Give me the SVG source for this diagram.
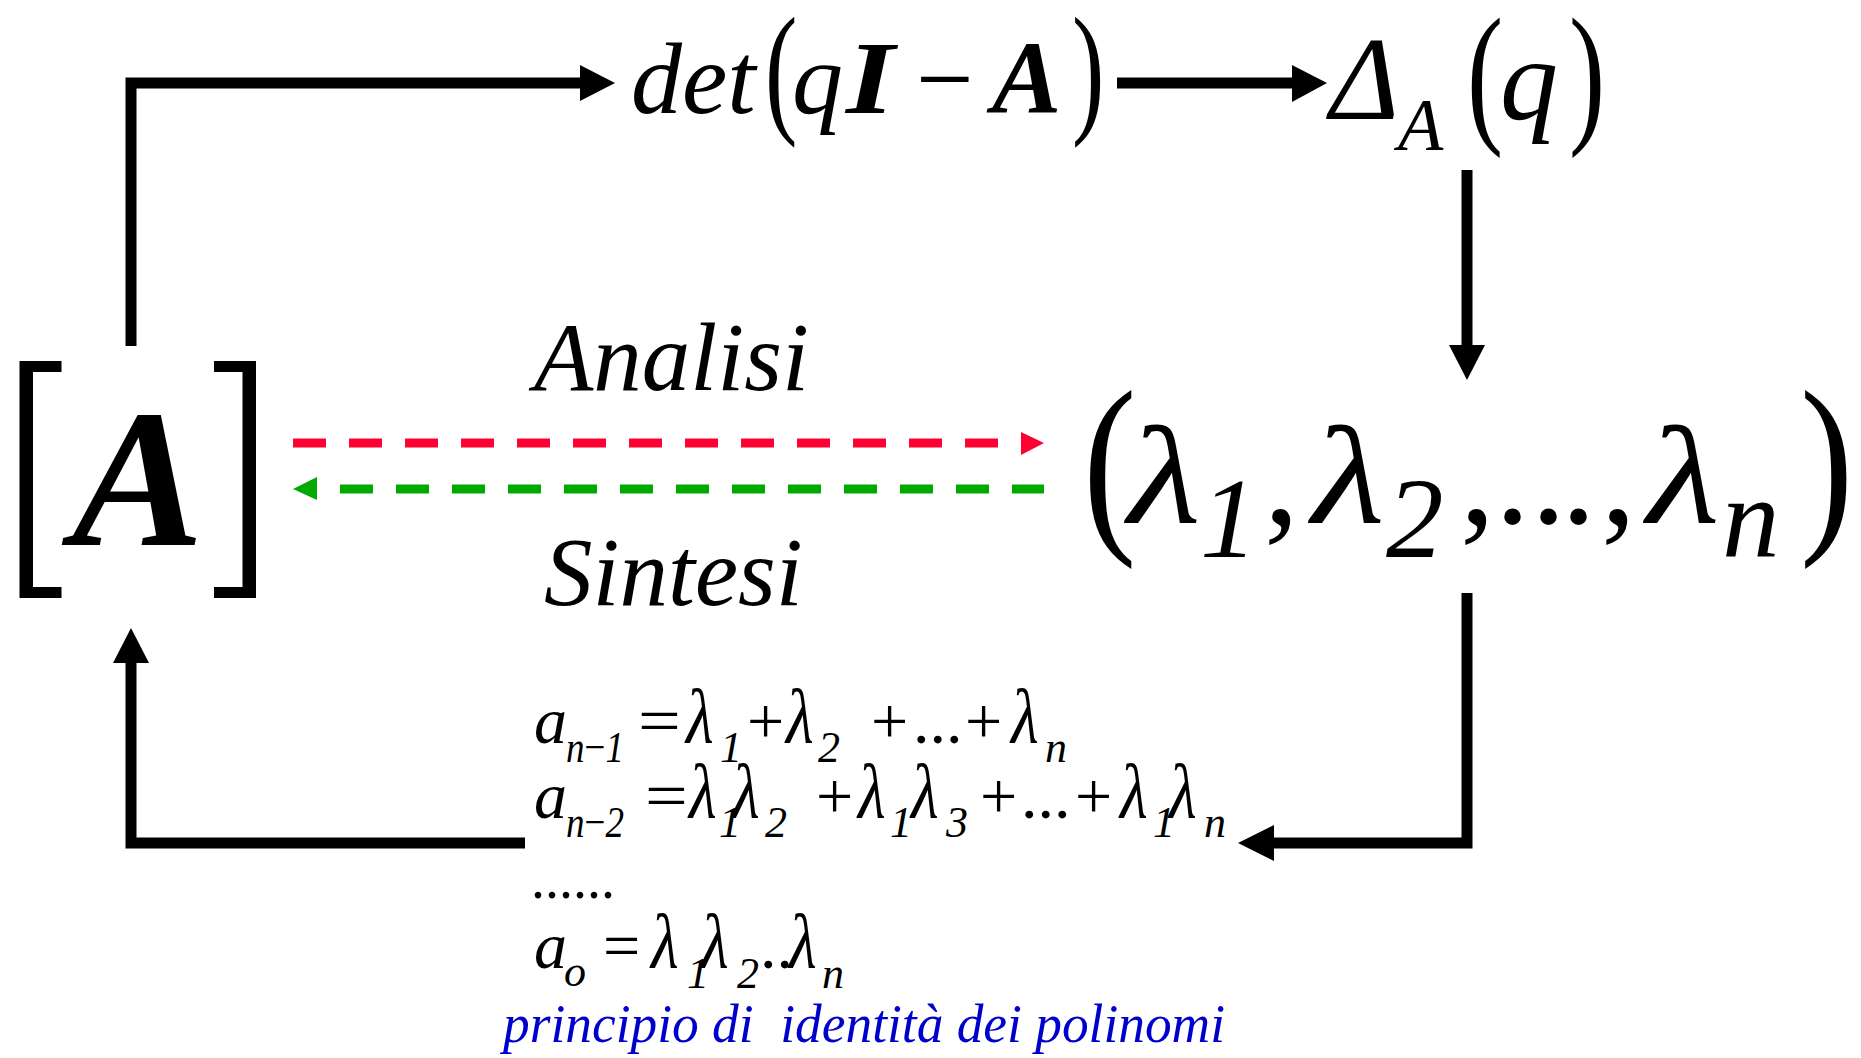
<svg xmlns="http://www.w3.org/2000/svg" width="1861" height="1058" viewBox="0 0 1861 1058" font-family="'Liberation Serif', 'DejaVu Serif', serif">
<style>
text{font-family:'Liberation Serif','DejaVu Serif',serif;fill:#000}
.it{font-style:italic}
.bi{font-style:italic;font-weight:bold}
.up{font-style:normal}
.conn{fill:none;stroke:#000;stroke-width:11;stroke-linejoin:miter;stroke-linecap:butt}
.head{fill:#000}
.red{fill:none;stroke:#FF0033;stroke-width:9;stroke-dasharray:33 23}
.green{fill:none;stroke:#00AA00;stroke-width:9;stroke-dasharray:33 23}
.eq{font-size:66px}
.sub{font-size:44px}
.big{font-size:140px}
.bsub{font-size:115px}
.blue{fill:#0000CC;font-style:italic;font-size:54px;white-space:pre}
</style>
<rect width="1861" height="1058" fill="#fff"/>

<g id="connectors">
  <path class="conn" d="M131 346 V83 H582"/>
  <polygon class="head" points="580,65 615,83 580,101"/>
  <path class="conn" d="M1117 83 H1294"/>
  <polygon class="head" points="1292,65 1327,83 1292,102"/>
  <path class="conn" d="M1467 170 V347"/>
  <polygon class="head" points="1449,345 1467,380 1485,345"/>
  <path class="conn" d="M1467 593 V843 H1272"/>
  <polygon class="head" points="1274,825 1238,843 1274,861"/>
  <path class="conn" d="M525 843 H131 V661"/>
  <polygon class="head" points="113,663 131,628 149,663"/>
  <path class="red" d="M293 443 H999"/>
  <polygon points="1021,432 1044,443 1021,455" fill="#FF0033"/>
  <path class="green" d="M340 489 H1044"/>
  <polygon points="317,477 293,489 317,500" fill="#00AA00"/>
</g>

<g id="node-A">
  <path d="M19.5 361 H61.5 V372 H33 V587 H61.5 V598 H19.5 Z" fill="#000"/>
  <path d="M256 361 H214 V372 H242.5 V587 H214 V598 H256 Z" fill="#000"/>
  <text class="bi" x="72" y="545" font-size="198">A</text>
</g>

<g id="node-det">
  <text class="it" x="631" y="113" font-size="102">det</text>
  <text class="up" font-size="143" transform="translate(765,117) scale(0.68,1)">(</text>
  <text class="it" x="792" y="113" font-size="102">q</text>
  <text class="bi" font-size="104" transform="translate(846,113) scale(1.2,1)">I</text>
  <text class="up" x="916" y="113" font-size="102">−</text>
  <text class="bi" x="992" y="113" font-size="104">A</text>
  <text class="up" font-size="143" transform="translate(1072,117) scale(0.68,1)">)</text>
</g>

<g id="node-delta">
  <text class="it" x="1330" y="119" font-size="118">Δ</text>
  <text class="it" x="1398" y="150" font-size="74">A</text>
  <text class="up" font-size="155" transform="translate(1467,125) scale(0.7,1)">(</text>
  <text class="it" x="1500" y="119" font-size="116">q</text>
  <text class="up" font-size="155" transform="translate(1569,125) scale(0.7,1)">)</text>
</g>

<g id="label-analisi">
  <text class="it" x="534" y="390" font-size="97">Analisi</text>
</g>
<g id="label-sintesi">
  <text class="it" x="544" y="605" font-size="97">Sintesi</text>
</g>

<g id="node-lambda">
  <text class="up" font-size="198" transform="translate(1083,527) scale(0.81,1)">(</text>
  <text class="it big" transform="translate(1128,523) scale(1.2,1)">λ</text>
  <text class="it bsub" x="1200" y="557">1</text>
  <text class="up big" x="1264" y="523">,</text>
  <text class="it big" transform="translate(1312,523) scale(1.2,1)">λ</text>
  <text class="it bsub" x="1386" y="557">2</text>
  <text class="up big" x="1460" y="523">,</text>
  <text class="up big" x="1495" y="523">.</text>
  <text class="up big" x="1531" y="523">.</text>
  <text class="up big" x="1561" y="523">.</text>
  <text class="up big" x="1601" y="523">,</text>
  <text class="it big" transform="translate(1647,523) scale(1.2,1)">λ</text>
  <text class="it bsub" x="1722" y="557">n</text>
  <text class="up" font-size="198" transform="translate(1800,527) scale(0.81,1)">)</text>
</g>

<g id="node-equations">
  <g class="eq">
    <text class="it" x="534" y="743">a</text>
    <text class="it sub" x="566" y="762" textLength="58" lengthAdjust="spacingAndGlyphs">n<tspan class="up">−</tspan>1</text>
    <text class="up" transform="translate(638,743) scale(1.15,1)">=</text>
    <text class="it" transform="translate(686,743) scale(0.97,1.17)">λ</text>
    <text class="it sub" x="720" y="762">1</text>
    <text class="up" x="747" y="743">+</text>
    <text class="it" transform="translate(786,743) scale(0.97,1.17)">λ</text>
    <text class="it sub" x="818" y="762">2</text>
    <text class="up" x="871" y="743">+</text>
    <text class="up" x="913" y="743">...</text>
    <text class="up" x="965" y="743">+</text>
    <text class="it" transform="translate(1011,743) scale(0.97,1.17)">λ</text>
    <text class="it sub" x="1045" y="762">n</text>

    <text class="it" x="534" y="818">a</text>
    <text class="it sub" x="566" y="837" textLength="58" lengthAdjust="spacingAndGlyphs">n<tspan class="up">−</tspan>2</text>
    <text class="up" transform="translate(645,818) scale(1.15,1)">=</text>
    <text class="it" transform="translate(689,818) scale(0.97,1.17)">λ</text>
    <text class="it sub" x="719" y="837">1</text>
    <text class="it" transform="translate(732,818) scale(0.97,1.17)">λ</text>
    <text class="it sub" x="765" y="837">2</text>
    <text class="up" x="816" y="818">+</text>
    <text class="it" transform="translate(858,818) scale(0.97,1.17)">λ</text>
    <text class="it sub" x="890" y="837">1</text>
    <text class="it" transform="translate(911,818) scale(0.97,1.17)">λ</text>
    <text class="it sub" x="946" y="837">3</text>
    <text class="up" x="980" y="818">+</text>
    <text class="up" x="1021" y="818">...</text>
    <text class="up" x="1075" y="818">+</text>
    <text class="it" transform="translate(1120,818) scale(0.97,1.17)">λ</text>
    <text class="it sub" x="1153" y="837">1</text>
    <text class="it" transform="translate(1169,818) scale(0.97,1.17)">λ</text>
    <text class="it sub" x="1204" y="837">n</text>

    <text class="up" x="531" y="898" font-size="56">......</text>

    <text class="it" x="534" y="968">a</text>
    <text class="it sub" x="564" y="986">o</text>
    <text class="up" transform="translate(603,968)">=</text>
    <text class="it" transform="translate(651,968) scale(0.97,1.17)">λ</text>
    <text class="it sub" x="687" y="988">1</text>
    <text class="it" transform="translate(701,968) scale(0.97,1.17)">λ</text>
    <text class="it sub" x="737" y="988">2</text>
    <text class="up" x="760" y="968">..</text>
    <text class="it" transform="translate(789,968) scale(0.97,1.17)">λ</text>
    <text class="it sub" x="822" y="988">n</text>
  </g>
  <text class="blue" x="503" y="1042" xml:space="preserve" textLength="722" lengthAdjust="spacingAndGlyphs">principio di  identità dei polinomi</text>
</g>
</svg>
